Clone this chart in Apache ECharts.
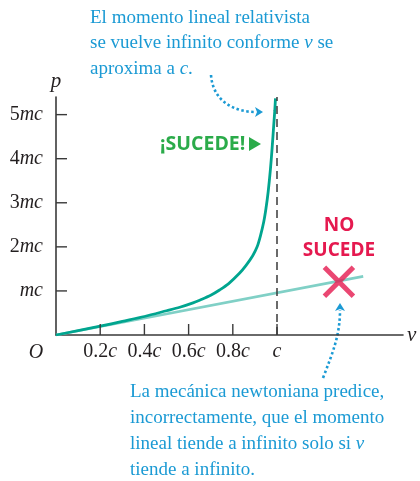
<!DOCTYPE html>
<html>
<head>
<meta charset="utf-8">
<script src="https://cdn.jsdelivr.net/npm/echarts@6/dist/echarts.min.js"></script>
<style>
  html, body { margin: 0; padding: 0; background: #fff; }
  #main { width: 420px; height: 481px; }
</style>
</head>
<body>
<div id="main"></div>
<script>
// valores (v en unidades de c, p en unidades de mc)
var vRel = [0, 0.1, 0.2, 0.3, 0.4, 0.5, 0.56, 0.62, 0.65, 0.7, 0.74, 0.78, 0.83, 0.86, 0.89, 0.91, 0.925, 0.94, 0.95, 0.96, 0.97, 0.978, 0.985, 0.99, 0.993];
var pRel = [0, 0.1, 0.2, 0.31, 0.42, 0.55, 0.63, 0.73, 0.79, 0.9, 1.02, 1.16, 1.4, 1.58, 1.8, 2.0, 2.25, 2.57, 2.87, 3.25, 3.75, 4.25, 4.75, 5.1, 5.37];
var vNewton = [0, 1.39];
var pNewton = [0, 1.33];
var xTicks = [0.2, 0.4, 0.6, 0.8, 1];
var yTicks = [1, 2, 3, 4, 5];
var cLine = 1;
var crossPoint = [1.28, 1.21];

var serif = 'Liberation Serif';
var ink = '#231f20';
var axisCol = '#3a3a3a';
var blue = '#1b9ad4';

function zip(a, b) {
  return a.map(function (x, i) { return [x, b[i]]; });
}

var myChart = echarts.init(document.getElementById('main'));

myChart.setOption({
  animation: false,
  grid: { left: 56, right: 17, top: 97, bottom: 146 },
  xAxis: {
    type: 'value',
    min: 0,
    max: 1.57,
    name: 'v',
    nameLocation: 'end',
    nameGap: 4,
    nameTextStyle: { fontFamily: serif, fontStyle: 'italic', fontSize: 21, color: ink },
    axisLine: { lineStyle: { color: axisCol, width: 1.6 } },
    axisTick: { show: false },
    axisLabel: {
      customValues: xTicks,
      margin: 7,
      formatter: function (v) {
        return v === 1 ? '{i|c}' : '{n|' + v + '}{i|c}';
      },
      rich: {
        n: { fontFamily: serif, fontSize: 20, color: ink },
        i: { fontFamily: serif, fontSize: 20, fontStyle: 'italic', color: ink }
      }
    },
    splitLine: { show: false }
  },
  yAxis: {
    type: 'value',
    min: 0,
    max: 5.4,
    name: 'p',
    nameLocation: 'end',
    nameGap: 5,
    nameTextStyle: { fontFamily: serif, fontStyle: 'italic', fontSize: 21, color: ink },
    axisLine: { show: true, lineStyle: { color: axisCol, width: 1.6 } },
    axisTick: { show: false },
    axisLabel: {
      customValues: yTicks,
      margin: 13,
      formatter: function (v) {
        return v === 1 ? '{i|mc}' : '{n|' + v + '}{i|mc}';
      },
      rich: {
        n: { fontFamily: serif, fontSize: 20, color: ink },
        i: { fontFamily: serif, fontSize: 20, fontStyle: 'italic', color: ink }
      }
    },
    splitLine: { show: false }
  },
  series: [
    {
      name: 'newton',
      type: 'line',
      data: zip(vNewton, pNewton),
      showSymbol: false,
      lineStyle: { color: '#80d0c6', width: 2.6 },
      z: 2,
      markLine: {
        silent: true,
        symbol: 'none',
        label: { show: false },
        lineStyle: { color: axisCol, width: 1.5, type: [8, 5] },
        data: [{ xAxis: cLine }]
      }
    },
    {
      name: 'relativista',
      type: 'line',
      data: zip(vRel, pRel),
      showSymbol: false,
      smooth: 0.3,
      lineStyle: { color: '#00a58f', width: 2.8 },
      z: 3
    },
    {
      name: 'cruz',
      type: 'scatter',
      data: [crossPoint],
      symbol: 'path://M0 0L10 10M10 0L0 10',
      symbolSize: 29,
      itemStyle: { color: 'none', borderColor: '#e5194f', borderWidth: 5 },
      z: 4
    }
  ],
  graphic: [
    {
      id: 'notaArriba', type: 'text', left: 90, top: 5,
      style: {
        text: 'El momento lineal relativista\nse vuelve infinito conforme {i|v} se\naproxima a {i|c}.',
        fontFamily: serif, fontSize: 19, lineHeight: 25.5, fill: blue,
        rich: { i: { fontFamily: serif, fontSize: 19, fontStyle: 'italic', fill: blue } }
      }
    },
    {
      id: 'notaAbajo', type: 'text', left: 130, top: 379,
      style: {
        text: 'La mecánica newtoniana predice,\nincorrectamente, que el momento\nlineal tiende a infinito solo si {i|v}\ntiende a infinito.',
        fontFamily: serif, fontSize: 19, lineHeight: 26, fill: blue,
        rich: { i: { fontFamily: serif, fontSize: 19, fontStyle: 'italic', fill: blue } }
      }
    },
    {
      id: 'origen', type: 'text', x: 36, y: 353,
      style: {
        text: 'O', fontFamily: serif, fontStyle: 'italic', fontSize: 20, fill: ink,
        align: 'center', verticalAlign: 'middle'
      }
    },
    {
      id: 'sucede', type: 'text', x: 160, y: 144,
      style: {
        text: '¡SUCEDE!', fontFamily: 'Open Sans', fontWeight: 'bold', fontSize: 19.5,
        fill: '#2bab4a', verticalAlign: 'middle'
      }
    },
    {
      id: 'triangulo', type: 'polygon',
      shape: { points: [[249, 137], [249, 151], [261, 144]] },
      style: { fill: '#2bab4a' }
    },
    {
      id: 'no', type: 'text', x: 339, y: 226,
      style: {
        text: 'NO', fontFamily: 'Open Sans', fontWeight: 'bold', fontSize: 19,
        fill: '#e5194f', align: 'center', verticalAlign: 'middle'
      }
    },
    {
      id: 'noSucede', type: 'text', x: 339, y: 251,
      style: {
        text: 'SUCEDE', fontFamily: 'Open Sans', fontWeight: 'bold', fontSize: 19,
        fill: '#e5194f', align: 'center', verticalAlign: 'middle'
      }
    },
    // flecha punteada superior
    {
      id: 'flecha1', type: 'bezierCurve',
      shape: { x1: 211, y1: 75, x2: 256, y2: 112, cpx1: 213, cpy1: 102, cpx2: 235, cpy2: 112 },
      style: { stroke: blue, lineWidth: 2.6, lineDash: [2.5, 2.5], fill: 'none' }
    },
    {
      id: 'punta1', type: 'polygon',
      shape: { points: [[255, 107], [263, 112], [255, 117], [257, 112]] },
      style: { fill: blue }
    },
    // flecha punteada inferior
    {
      id: 'flecha2', type: 'bezierCurve',
      shape: { x1: 323, y1: 378, x2: 340, y2: 310, cpx1: 333, cpy1: 352, cpx2: 340, cpy2: 335 },
      style: { stroke: blue, lineWidth: 2.6, lineDash: [2.5, 2.5], fill: 'none' }
    },
    {
      id: 'punta2', type: 'polygon',
      shape: { points: [[335, 311], [340, 303], [345, 311], [340, 309]] },
      style: { fill: blue }
    }
  ]
});

// marcas de los ejes hacia dentro, situadas con la escala de la propia gráfica
var tickLen = 11;
var tickEls = [];
xTicks.forEach(function (v, i) {
  var pt = myChart.convertToPixel({ gridIndex: 0 }, [v, 0]);
  tickEls.push({
    id: 'tx' + i, type: 'line', z: 5,
    shape: { x1: pt[0], y1: pt[1], x2: pt[0], y2: pt[1] - tickLen },
    style: { stroke: axisCol, lineWidth: 1.4 }
  });
});
yTicks.forEach(function (p, i) {
  var pt = myChart.convertToPixel({ gridIndex: 0 }, [0, p]);
  tickEls.push({
    id: 'ty' + i, type: 'line', z: 5,
    shape: { x1: pt[0], y1: pt[1], x2: pt[0] + tickLen, y2: pt[1] },
    style: { stroke: axisCol, lineWidth: 1.4 }
  });
});
myChart.setOption({ graphic: tickEls });
</script>
</body>
</html>
